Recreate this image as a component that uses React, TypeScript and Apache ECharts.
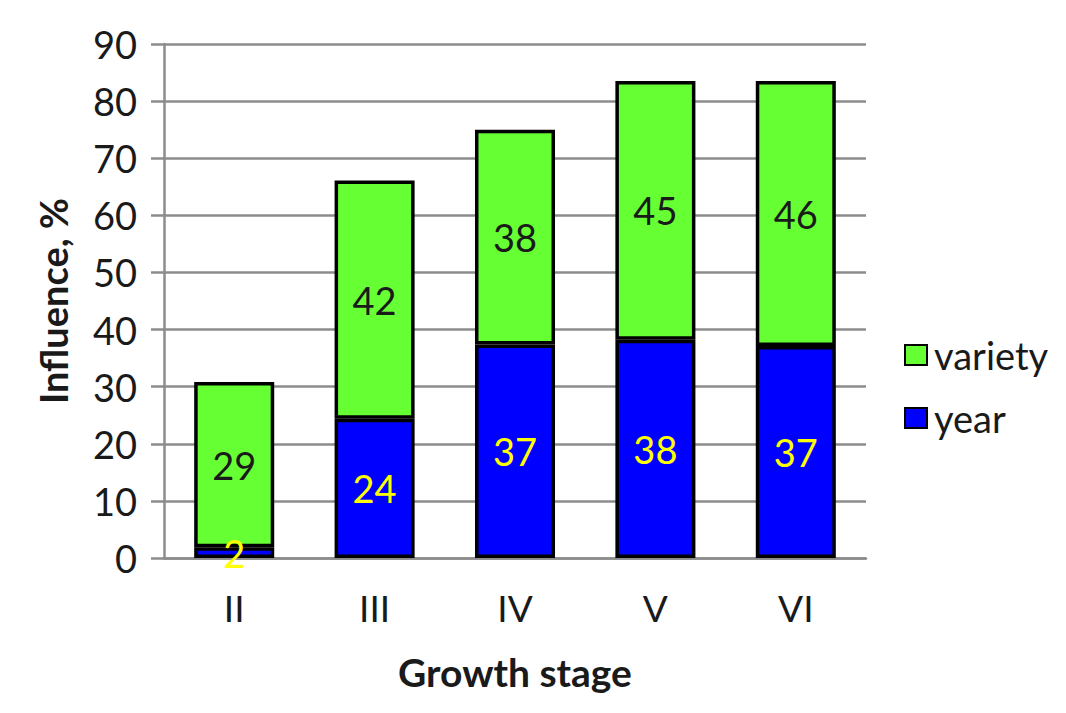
import React, { useEffect, useRef } from "react";
import * as echarts from "echarts";

const categories = ["II", "III", "IV", "V", "VI"];
const yearValues = [1.9, 24.4, 37.4, 38.2, 37.1];
const varietyValues = [28.9, 41.7, 37.6, 45.3, 46.4];
const yTickMin = 0;
const yTickMax = 90;
const yTickStep = 10;

const FONT = "Lato, 'Open Sans', sans-serif";
const GRAY = "#8c8c8c";

export default function App() {
  const ref = useRef<HTMLDivElement>(null);
  useEffect(() => {
    if (!ref.current) return;
    const chart = echarts.init(ref.current, null, { renderer: "svg" });
    const labelFmt = (p: any) => String(Math.round(p.value));
    chart.setOption({
      animation: false,
      backgroundColor: "#ffffff",
      textStyle: { fontFamily: FONT },
      grid: { left: 164, right: 200, top: 44, bottom: 155, containLabel: false },
      legend: {
        orient: "vertical",
        left: 899,
        top: 331,
        data: ["variety", "year"],
        icon: "rect",
        itemWidth: 22,
        itemHeight: 20,
        itemGap: 25,
        textStyle: { fontFamily: FONT, fontSize: 38, color: "#1a1a1a", padding: [0, 0, 0, 2] },
      },
      xAxis: {
        type: "category",
        data: categories,
        name: "Growth stage",
        nameLocation: "middle",
        nameGap: 94,
        nameTextStyle: { fontFamily: FONT, fontSize: 39, fontWeight: "bold", color: "#1a1a1a" },
        axisLine: { show: true, lineStyle: { color: GRAY, width: 2.5 } },
        axisTick: { show: false },
        axisLabel: { fontFamily: FONT, fontSize: 37, color: "#1a1a1a", margin: 31 },
      },
      yAxis: {
        type: "value",
        min: yTickMin,
        max: yTickMax,
        interval: yTickStep,
        name: "Influence, %",
        nameLocation: "middle",
        nameGap: 92,
        nameTextStyle: { fontFamily: FONT, fontSize: 38, fontWeight: "bold", color: "#1a1a1a" },
        axisLine: { show: true, lineStyle: { color: GRAY, width: 2.5 } },
        axisTick: { show: true, length: 13, inside: false, lineStyle: { color: GRAY, width: 2.5 } },
        splitLine: { show: true, lineStyle: { color: GRAY, width: 2.5 } },
        axisLabel: { fontFamily: FONT, fontSize: 38, color: "#1a1a1a", margin: 27 },
      },
      series: [
        {
          name: "year",
          type: "bar",
          stack: "total",
          data: yearValues,
          barWidth: "57%",
          itemStyle: { color: "#0000ff", borderColor: "#000000", borderWidth: 3.5 },
          label: {
            show: true,
            position: "inside",
            formatter: labelFmt,
            fontFamily: FONT,
            fontSize: 38,
            color: "#ffff00",
          },
        },
        {
          name: "variety",
          type: "bar",
          stack: "total",
          data: varietyValues,
          barWidth: "57%",
          itemStyle: { color: "#66ff33", borderColor: "#000000", borderWidth: 3.5 },
          label: {
            show: true,
            position: "inside",
            formatter: labelFmt,
            fontFamily: FONT,
            fontSize: 38,
            color: "#1a1a1a",
          },
        },
      ],
    });
    return () => chart.dispose();
  }, []);
  return (
    <div
      ref={ref}
      style={{ position: "fixed", left: 0, top: 0, width: 1066, height: 713, background: "#fff" }}
    />
  );
}
